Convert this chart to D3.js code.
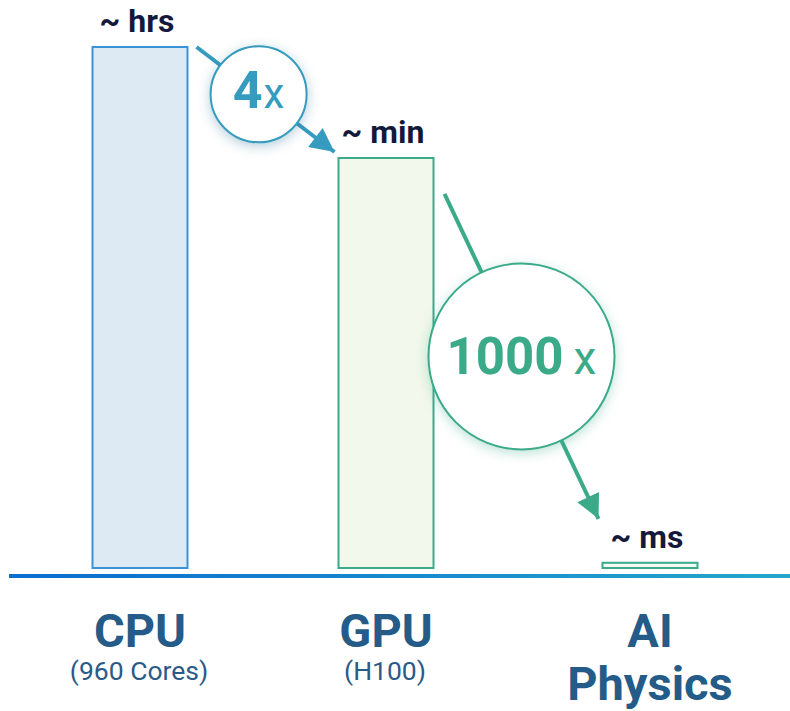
<!DOCTYPE html>
<html>
<head>
<meta charset="utf-8">
<script src="https://cdn.jsdelivr.net/npm/d3@7"></script>
<style>
  html, body { margin: 0; padding: 0; background: #ffffff; }
  svg { display: block; font-family: Roboto, "Noto Sans", sans-serif; }
</style>
</head>
<body>
<svg id="chart" width="790" height="711"></svg>
<script>
// Platforms compared and their relative run times (CPU = 100)
const categories = ["CPU", "GPU", "AI Physics"];
const subLabels = ["(960 Cores)", "(H100)", ""];
const relativeTime = [100, 78.7, 1];
const timeLabels = ["~ hrs", "~ min", "~ ms"];
const speedups = [
  { from: "CPU", to: "GPU", factor: "4" },
  { from: "GPU", to: "AI Physics", factor: "1000" }
];

const W = 790, H = 711;
const baseY = 568;
const barW = 95;

const svg = d3.select("#chart");
const defs = svg.append("defs");

// Category centres along the axis
const x = d3.scaleOrdinal().domain(categories).range([140, 386, 650]);
const y = d3.scaleLinear().domain([0, 100]).range([baseY, 47]);

const barStyle = {
  "CPU": { fill: "#dde9f3", stroke: "#3a93d9" },
  "GPU": { fill: "#f2f8eb", stroke: "#3aaa88" },
  "AI Physics": { fill: "#f3faf4", stroke: "#3aaa88" }
};

// Baseline gradient
const grad = defs.append("linearGradient").attr("id", "axisGrad")
  .attr("x1", "0%").attr("x2", "100%");
grad.append("stop").attr("offset", "0%").attr("stop-color", "#0a6cd0");
grad.append("stop").attr("offset", "100%").attr("stop-color", "#24a7cb");

// Soft glow under the speed-up badges
function glow(id, color) {
  const f = defs.append("filter").attr("id", id)
    .attr("x", "-40%").attr("y", "-40%").attr("width", "180%").attr("height", "180%");
  f.append("feDropShadow").attr("dx", 0).attr("dy", 3).attr("stdDeviation", 6)
    .attr("flood-color", color).attr("flood-opacity", 0.35);
}
glow("glowBlue", "#2e6f93");
glow("glowGreen", "#3aaa88");

function marker(id, color) {
  defs.append("marker").attr("id", id)
    .attr("viewBox", "0 0 10 10").attr("refX", 10).attr("refY", 5)
    .attr("markerUnits", "userSpaceOnUse")
    .attr("markerWidth", 28).attr("markerHeight", 24)
    .attr("orient", "auto")
    .append("path").attr("d", "M0,0 L10,5 L0,10 Z").attr("fill", color);
}
marker("arrowBlue", "#359bbf");
marker("arrowGreen", "#3aaa88");

const data = categories.map((c, i) => ({
  cat: c, sub: subLabels[i], v: relativeTime[i], label: timeLabels[i]
}));

// Bars
svg.append("g").selectAll("rect").data(data).join("rect")
  .attr("x", d => x(d.cat) - barW / 2)
  .attr("y", d => y(d.v))
  .attr("width", barW)
  .attr("height", d => baseY - y(d.v))
  .attr("fill", d => barStyle[d.cat].fill)
  .attr("stroke", d => barStyle[d.cat].stroke)
  .attr("stroke-width", 2);

// Time labels above the bars
svg.append("g").selectAll("text").data(data).join("text")
  .attr("x", d => x(d.cat) - 3)
  .attr("y", d => y(d.v) - 15)
  .attr("text-anchor", "middle")
  .attr("font-size", 32)
  .attr("font-weight", 700)
  .attr("fill", "#14193b")
  .text(d => d.label);

// Baseline
svg.append("rect")
  .attr("x", 9).attr("y", 574).attr("width", W - 9).attr("height", 4)
  .attr("fill", "url(#axisGrad)");

// Category labels
const cat = svg.append("g").selectAll("g").data(data).join("g")
  .attr("transform", d => `translate(${x(d.cat)},0)`);
cat.each(function (d) {
  const g = d3.select(this);
  const words = d.sub ? [d.cat] : d.cat === "AI Physics" ? ["AI", "Physics"] : [d.cat];
  words.forEach((w, k) => {
    g.append("text").attr("x", 0).attr("y", 647 + k * 53)
      .attr("text-anchor", "middle").attr("font-size", 47).attr("font-weight", 700)
      .attr("fill", "#245b88").text(w);
  });
  if (d.sub) {
    g.append("text").attr("x", -1).attr("y", 680)
      .attr("text-anchor", "middle").attr("font-size", 26.5).attr("font-weight", 400)
      .attr("fill", "#2a5b87").text(d.sub);
  }
});

// Speed-up arrows with badges
const byCat = Object.fromEntries(data.map(d => [d.cat, d]));
const arrowCfg = [
  { color: "#359bbf", marker: "arrowBlue", glow: "glowBlue",
    start: [9, 0], end: [-4, -6], r: 48, t: 0.45,
    numSize: 52, xSize: 42, gap: 1, base: 14 },
  { color: "#3aaa88", marker: "arrowGreen", glow: "glowGreen",
    start: [11, 36], end: [-4, -44], r: 93, t: 0.5,
    numSize: 51, xSize: 46, gap: 10, base: 18 }
];

speedups.forEach((s, i) => {
  const c = arrowCfg[i];
  const a = byCat[s.from], b = byCat[s.to];
  const x1 = x(a.cat) + barW / 2 + c.start[0], y1 = y(a.v) + c.start[1];
  const x2 = x(b.cat) - barW / 2 + c.end[0], y2 = y(b.v) + c.end[1];
  const g = svg.append("g");
  g.append("line")
    .attr("x1", x1).attr("y1", y1).attr("x2", x2).attr("y2", y2)
    .attr("stroke", c.color).attr("stroke-width", 4)
    .attr("marker-end", `url(#${c.marker})`);
  const cx = x1 + (x2 - x1) * c.t, cy = y1 + (y2 - y1) * c.t;
  g.append("circle").attr("cx", cx).attr("cy", cy).attr("r", c.r)
    .attr("fill", "#ffffff").attr("stroke", c.color).attr("stroke-width", 2)
    .attr("filter", `url(#${c.glow})`);
  const t = g.append("text").attr("x", cx).attr("y", cy + c.base)
    .attr("text-anchor", "middle").attr("fill", c.color);
  t.append("tspan").attr("font-size", c.numSize).attr("font-weight", 700).text(s.factor);
  t.append("tspan").attr("dx", c.gap).attr("font-size", c.xSize).attr("font-weight", 400).text("x");
});
</script>
</body>
</html>
